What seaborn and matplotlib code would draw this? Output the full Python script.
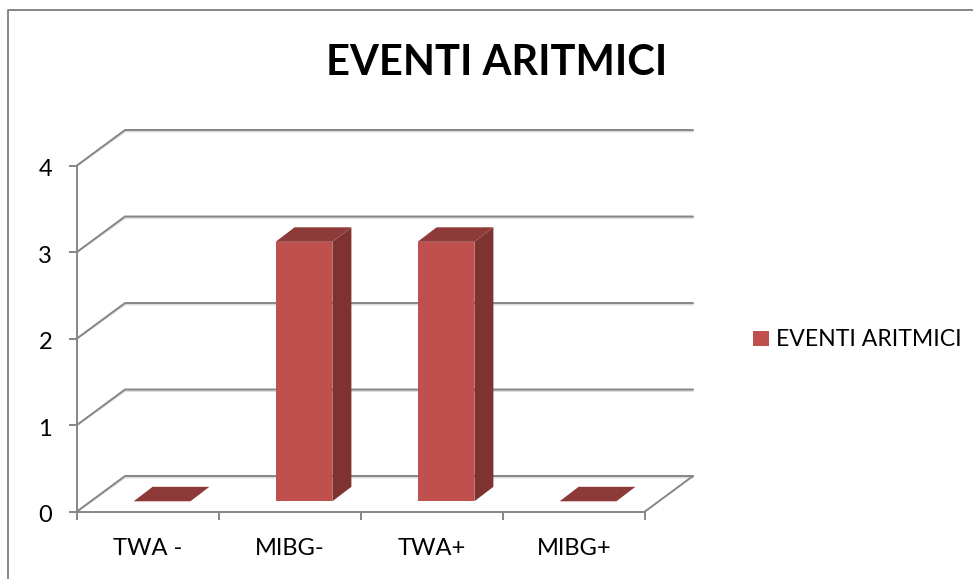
import numpy as np
import pandas as pd
import seaborn as sns
import matplotlib.pyplot as plt
from matplotlib.lines import Line2D
from matplotlib.patches import Polygon
from matplotlib.transforms import Affine2D

categories = ['TWA -', 'MIBG-', 'TWA+', 'MIBG+']
values = [0, 3, 3, 0]
y_ticks = [0, 1, 2, 3, 4]
series_name = 'EVENTI ARITMICI'

W, H = 973, 579
GREY = '#868686'
SHADOW = '#dcdcdc'
FACE = '#C0504D'
SIDE = '#7F3331'
TOP = '#8E3A38'

sns.set_theme(style='white')
plt.rcParams['font.family'] = ['Lato', 'DejaVu Sans']

## pixel sizes of the fake 3d box
left, right, bottom, top = 77, 645, 511.5, 165.5
px_x = (right - left) / 4
px_y = (bottom - top) / 4


def dx(px):
    return px / px_x


def dy(px):
    return px / px_y


fig = plt.figure(figsize=(W / 100, H / 100), dpi=100)
ax = fig.add_axes([left / W, 1 - bottom / H, (right - left) / W, (bottom - top) / H])

frame = pd.DataFrame({'group': categories, 'value': values})
sns.barplot(data=frame, x='group', y='value', ax=ax, color=FACE, saturation=1, width=0.4, zorder=5, label=series_name)
ax.set_xlim(-0.5, 3.5)
ax.set_ylim(0, 4)

# walls and floor
back_x, back_y = dx(48), dy(35.5)
for col, lw, shift in [(SHADOW, 1.4, -dy(1.5)), (GREY, 1.4, 0)]:
    for v in y_ticks:
        ax.plot([-0.5, -0.5 + back_x, 3.5 + back_x], [v, v + back_y + shift, v + back_y + shift],
                color=col, lw=lw, clip_on=False, zorder=2, solid_joinstyle='miter')
ax.plot([3.5, 3.5 + back_x], [0, back_y], color=GREY, lw=1.4, clip_on=False, zorder=2)

for side in ['top', 'right']:
    ax.spines[side].set_visible(False)
for side in ['left', 'bottom']:
    ax.spines[side].set_color(GREY)
    ax.spines[side].set_linewidth(1.4)

ax.set_yticks(y_ticks)
ax.set_xticks(np.arange(-0.5, 4), minor=True)
ax.tick_params(axis='x', which='major', length=0, pad=19, labelsize=17, labelcolor='black')
ax.tick_params(axis='x', which='minor', bottom=True, length=6, width=1.4, color=GREY)
ax.tick_params(axis='y', left=True, length=6, width=1.4, color=GREY, pad=12, labelsize=17, labelcolor='black')
ax.set_xlabel('')
ax.set_ylabel('')

# lato digits sit high, push the y labels down a little
for lab in ax.get_yticklabels():
    lab.set_transform(lab.get_transform() + Affine2D().translate(0, -2))

# bars sit a bit behind the front edge, side and top faces come from each bar
move = ax.transData + Affine2D().translate(14, 10.2)
depth_x, depth_y = dx(19), dy(14.5)
for bar in ax.patches:
    x0, w, h = bar.get_x(), bar.get_width(), bar.get_height()
    bar.set_transform(move)
    bar.set_clip_on(False)
    bar.set_linewidth(0)
    side_pts = [(x0 + w, 0), (x0 + w + depth_x, depth_y), (x0 + w + depth_x, h + depth_y), (x0 + w, h)]
    top_pts = [(x0, h), (x0 + w, h), (x0 + w + depth_x, h + depth_y), (x0 + depth_x, h + depth_y)]
    if h > 0:
        ax.add_patch(Polygon(side_pts, closed=True, fc=SIDE, ec='none', transform=move, clip_on=False, zorder=5))
    ax.add_patch(Polygon(top_pts, closed=True, fc=TOP, ec='none', transform=move, clip_on=False, zorder=5))

# legend only wants the front colour
handles = [plt.Rectangle((0, 0), 1, 1, fc=FACE, ec='none')]
ax.legend(handles, [series_name], loc='center left', bbox_to_anchor=(746.5 / W, 1 - 340 / H),
          bbox_transform=fig.transFigure, frameon=False, fontsize=16.6, labelcolor='black',
          handlelength=0.66, handleheight=0.66, handletextpad=0.3, borderpad=0, borderaxespad=0.3)

fig.text(496.5 / W, 1 - 63 / H, series_name, fontsize=30, fontweight='bold', color='black', ha='center', va='center')

# chart area border, only top and left show
fig.add_artist(Line2D([7.5 / W, 7.5 / W, 1], [0, 1 - 10 / H, 1 - 10 / H], color=GREY, lw=1.4))

fig.savefig('out.png', dpi=100)
